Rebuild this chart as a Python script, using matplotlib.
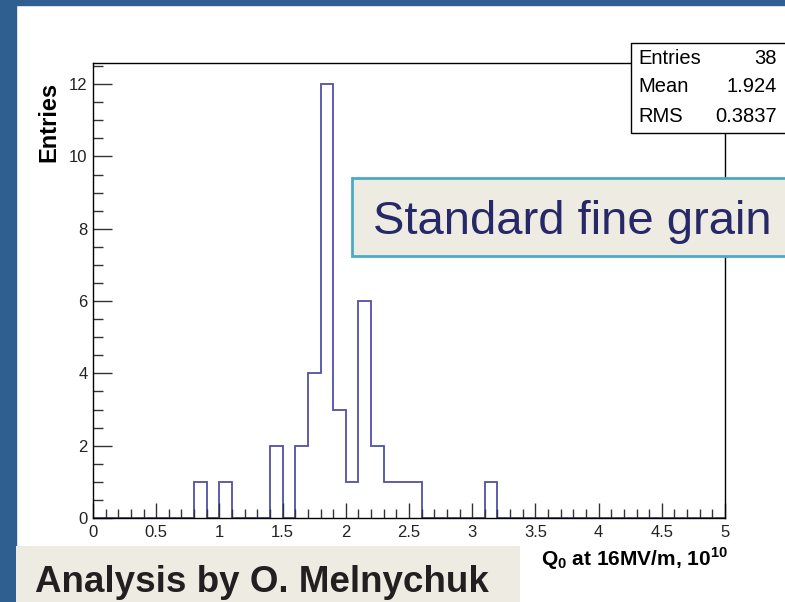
import numpy as np
import matplotlib
matplotlib.use("Agg")
import matplotlib.pyplot as plt
from matplotlib.patches import Rectangle
from matplotlib.ticker import MultipleLocator

plt.rcParams['font.family'] = ['Liberation Sans', 'DejaVu Sans']
plt.rcParams['mathtext.fontset'] = 'custom'
plt.rcParams['mathtext.rm'] = 'Liberation Sans:bold'
plt.rcParams['mathtext.bf'] = 'Liberation Sans:bold'

# Q0 histogram, 50 bins of 0.1 from 0 to 5 (only filled bins listed)
bin_low = [0.8, 1.0, 1.4, 1.6, 1.7, 1.8, 1.9, 2.0, 2.1, 2.2, 2.3, 2.4, 2.5, 3.1]
bin_count = [1, 1, 2, 2, 4, 12, 3, 1, 6, 2, 1, 1, 1, 1]

stat_names = ['Entries', 'Mean', 'RMS']
stat_values = ['38', '1.924', '0.3837']

edges = np.round(np.arange(0, 5.0001, 0.1), 2)
counts = np.zeros(len(edges) - 1)
for lo, c in zip(bin_low, bin_count):
    counts[int(round(lo / 0.1))] = c

W, H = 785, 602
fig = plt.figure(figsize=(W / 100, H / 100), dpi=100)
fig.patch.set_facecolor('white')

# slide border
blue = '#2f5f90'
fig.patches.append(Rectangle((0, 0), 16 / W, 1, transform=fig.transFigure,
                             color=blue, zorder=0))
fig.patches.append(Rectangle((0, 1 - 5 / H), 1, 5 / H, transform=fig.transFigure,
                             color=blue, zorder=0))

ax = fig.add_axes([93 / W, 84 / H, 632 / W, 455.5 / H])
ax.stairs(counts, edges, color='#5050a8', linewidth=1.3, zorder=1)
ax.set_xlim(0, 5)
ax.set_ylim(0, 12.6)

for s in ax.spines.values():
    s.set_color('black')
    s.set_linewidth(1.0)
    s.set_zorder(3)

ax.xaxis.set_major_locator(MultipleLocator(0.5))
ax.xaxis.set_minor_locator(MultipleLocator(0.1))
ax.yaxis.set_major_locator(MultipleLocator(2))
ax.yaxis.set_minor_locator(MultipleLocator(0.5))
ax.set_xticks(np.arange(0, 5.01, 0.5))
ax.set_xticklabels(['0', '0.5', '1', '1.5', '2', '2.5', '3', '3.5', '4', '4.5', '5'])
ax.tick_params(axis='both', which='both', direction='in', color='#333333',
               labelcolor='#222222', labelsize=12, width=1)
ax.tick_params(axis='y', which='major', length=14, pad=4)
ax.tick_params(axis='y', which='minor', length=7)
ax.tick_params(axis='x', which='major', length=11, pad=5)
ax.tick_params(axis='x', which='minor', length=6.5)

# axis titles
fig.text(49 / W, 1 - 82 / H, 'Entries', rotation=90, ha='center', va='top',
         fontsize=17, fontweight='bold', color='black')
fig.text(728 / W, 1 - 566 / H, r'$\mathbf{Q_0}$ at 16MV/m, 10$^{10}$',
         ha='right', va='baseline', fontsize=15, fontweight='bold', color='black')

# statistics box
fig.patches.append(Rectangle((631 / W, 1 - 132.7 / H), 0.25, 89.4 / H,
                             transform=fig.transFigure, facecolor='white',
                             edgecolor='black', linewidth=1.0, zorder=5))
for i, (n, v) in enumerate(zip(stat_names, stat_values)):
    yy = 1 - (58 + 29 * i) / H
    fig.text(638 / W, yy, n, ha='left', va='center', fontsize=14.5,
             color='black', zorder=6)
    fig.text(777 / W, yy, v, ha='right', va='center', fontsize=14.5,
             color='black', zorder=6)

# highlight boxes
fig.patches.append(Rectangle((352 / W, 1 - 256 / H), 0.6, 78 / H,
                             transform=fig.transFigure, facecolor='#eeebe2',
                             edgecolor='#4aaac6', linewidth=2, zorder=5))
fig.text(373 / W, 1 - 234 / H, 'Standard fine grain', ha='left', va='baseline',
         fontsize=34, color='#262868', zorder=6)

fig.patches.append(Rectangle((16 / W, 0), 504 / W, 56 / H,
                             transform=fig.transFigure, facecolor='#eeebe2',
                             edgecolor='none', zorder=5))
fig.text(35 / W, 1 - 592 / H, 'Analysis by O. Melnychuk', ha='left',
         va='baseline', fontsize=26.5, fontweight='bold', color='#231f20', zorder=6)

fig.savefig('out.png', dpi=100)
